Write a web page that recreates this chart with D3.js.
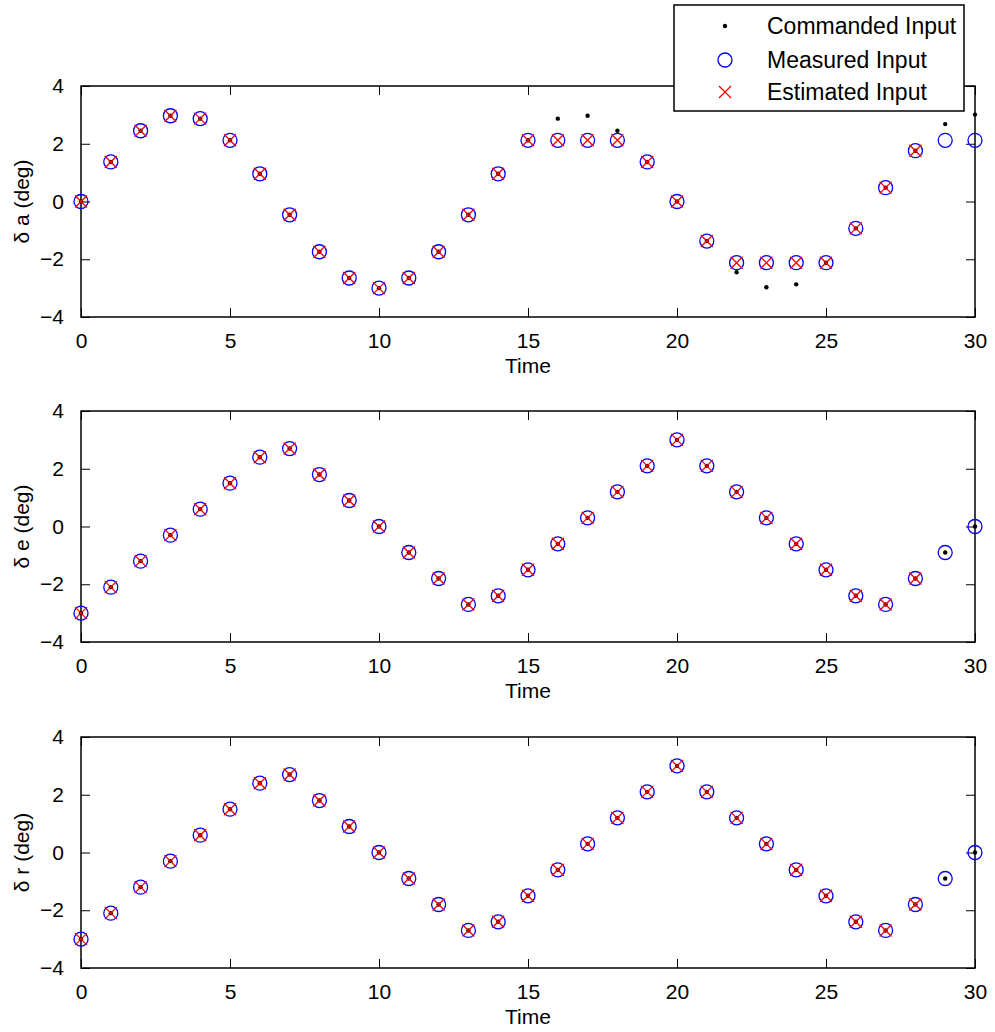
<!DOCTYPE html>
<html>
<head>
<meta charset="utf-8">
<script src="https://cdn.jsdelivr.net/npm/d3@7"></script>
<style>
  html, body { margin: 0; padding: 0; background: #fff; }
  svg { display: block; font-family: "Liberation Sans", Arial, Helvetica, sans-serif; }
</style>
</head>
<body>
<svg id="chart" width="995" height="1032"></svg>
<script>
// Sample times
const timeSteps = [0,1,2,3,4,5,6,7,8,9,10,11,12,13,14,15,16,17,18,19,20,21,22,23,24,25,26,27,28,29,30];

// Aileron deflection (deg)
const aCommanded = [0, 1.37, 2.45, 2.97, 2.87, 2.12, 0.96, -0.46, -1.74, -2.65, -3.0, -2.65, -1.74, -0.46, 0.96, 2.12,
                    2.87, 2.97, 2.45, 1.37, 0, -1.37, -2.45, -2.97, -2.87, -2.12, -0.93, 0.48, 1.76, 2.68, 3.01];
const aMeasured   = [0, 1.37, 2.45, 2.97, 2.87, 2.12, 0.96, -0.46, -1.74, -2.65, -3.0, -2.65, -1.74, -0.46, 0.96, 2.12,
                    2.12, 2.12, 2.12, 1.37, 0, -1.37, -2.12, -2.12, -2.12, -2.12, -0.93, 0.48, 1.76, 2.12, 2.12];
const aEstimated  = [0, 1.37, 2.45, 2.97, 2.87, 2.12, 0.96, -0.46, -1.74, -2.65, -3.0, -2.65, -1.74, -0.46, 0.96, 2.12,
                    2.12, 2.12, 2.12, 1.37, 0, -1.37, -2.12, -2.12, -2.12, -2.12, -0.93, 0.48, 1.76];

// Elevator deflection (deg)
const eCommanded = [-3.0, -2.1, -1.2, -0.3, 0.6, 1.5, 2.4, 2.7, 1.8, 0.9, 0, -0.9, -1.8, -2.7, -2.4, -1.5,
                    -0.6, 0.3, 1.2, 2.1, 3.0, 2.1, 1.2, 0.3, -0.6, -1.5, -2.4, -2.7, -1.8, -0.9, 0];
const eMeasured  = [-3.0, -2.1, -1.2, -0.3, 0.6, 1.5, 2.4, 2.7, 1.8, 0.9, 0, -0.9, -1.8, -2.7, -2.4, -1.5,
                    -0.6, 0.3, 1.2, 2.1, 3.0, 2.1, 1.2, 0.3, -0.6, -1.5, -2.4, -2.7, -1.8, -0.9, 0];
const eEstimated = [-3.0, -2.1, -1.2, -0.3, 0.6, 1.5, 2.4, 2.7, 1.8, 0.9, 0, -0.9, -1.8, -2.7, -2.4, -1.5,
                    -0.6, 0.3, 1.2, 2.1, 3.0, 2.1, 1.2, 0.3, -0.6, -1.5, -2.4, -2.7, -1.8];

// Rudder deflection (deg)
const rCommanded = [-3.0, -2.1, -1.2, -0.3, 0.6, 1.5, 2.4, 2.7, 1.8, 0.9, 0, -0.9, -1.8, -2.7, -2.4, -1.5,
                    -0.6, 0.3, 1.2, 2.1, 3.0, 2.1, 1.2, 0.3, -0.6, -1.5, -2.4, -2.7, -1.8, -0.9, 0];
const rMeasured  = [-3.0, -2.1, -1.2, -0.3, 0.6, 1.5, 2.4, 2.7, 1.8, 0.9, 0, -0.9, -1.8, -2.7, -2.4, -1.5,
                    -0.6, 0.3, 1.2, 2.1, 3.0, 2.1, 1.2, 0.3, -0.6, -1.5, -2.4, -2.7, -1.8, -0.9, 0];
const rEstimated = [-3.0, -2.1, -1.2, -0.3, 0.6, 1.5, 2.4, 2.7, 1.8, 0.9, 0, -0.9, -1.8, -2.7, -2.4, -1.5,
                    -0.6, 0.3, 1.2, 2.1, 3.0, 2.1, 1.2, 0.3, -0.6, -1.5, -2.4, -2.7, -1.8];

const xTicks = [0, 5, 10, 15, 20, 25, 30];
const yTicks = [-4, -2, 0, 2, 4];
const yLabels = ["\u03B4 a (deg)", "\u03B4 e (deg)", "\u03B4 r (deg)"];
const xLabel = "Time";
const legendLabels = ["Commanded Input", "Measured Input", "Estimated Input"];

const panels = [
  { cmd: aCommanded, meas: aMeasured, est: aEstimated, label: yLabels[0], top: 86 },
  { cmd: eCommanded, meas: eMeasured, est: eEstimated, label: yLabels[1], top: 411 },
  { cmd: rCommanded, meas: rMeasured, est: rEstimated, label: yLabels[2], top: 737 }
];

const svg = d3.select("#chart");
const left = 81, right = 975, plotH = 231;
const tickLen = 9;
const fmt = v => (v < 0 ? "\u2212" + Math.abs(v) : String(v));

const x = d3.scaleLinear().domain([0, 30]).range([left, right]);

function drawMarkers(g, y, cmd, meas, est) {
  // commanded: small black dots
  g.append("g").selectAll("circle").data(cmd).join("circle")
    .attr("cx", (d, i) => x(timeSteps[i])).attr("cy", d => y(d))
    .attr("r", 2.2).attr("fill", "#000");
  // measured: blue open circles
  g.append("g").selectAll("circle").data(meas).join("circle")
    .attr("cx", (d, i) => x(timeSteps[i])).attr("cy", d => y(d))
    .attr("r", 7).attr("fill", "none").attr("stroke", "#0000ff").attr("stroke-width", 1.3);
  // estimated: red crosses
  const s = 6;
  g.append("g").selectAll("path").data(est).join("path")
    .attr("d", (d, i) => {
      const cx = x(timeSteps[i]), cy = y(d);
      return `M${cx - s},${cy - s}L${cx + s},${cy + s}M${cx - s},${cy + s}L${cx + s},${cy - s}`;
    })
    .attr("fill", "none").attr("stroke", "#ff0000").attr("stroke-width", 1.3);
}

panels.forEach(p => {
  const top = p.top, bottom = top + plotH;
  const y = d3.scaleLinear().domain([-4, 4]).range([bottom, top]);
  const g = svg.append("g");

  // axes with ticks pointing inward, mirrored on opposite sides
  const axB = d3.axisBottom(x).tickValues(xTicks).tickSizeInner(-tickLen).tickSizeOuter(0).tickPadding(16).tickFormat(fmt);
  const axT = d3.axisTop(x).tickValues(xTicks).tickSizeInner(-tickLen).tickSizeOuter(0).tickFormat("");
  const axL = d3.axisLeft(y).tickValues(yTicks).tickSizeInner(-tickLen).tickSizeOuter(0).tickPadding(17).tickFormat(fmt);
  const axR = d3.axisRight(y).tickValues(yTicks).tickSizeInner(-tickLen).tickSizeOuter(0).tickFormat("");

  const gb = g.append("g").attr("transform", `translate(0,${bottom})`).call(axB);
  const gt = g.append("g").attr("transform", `translate(0,${top})`).call(axT);
  const gl = g.append("g").attr("transform", `translate(${left},0)`).call(axL);
  const gr = g.append("g").attr("transform", `translate(${right},0)`).call(axR);

  [gb, gt, gl, gr].forEach(a => {
    a.select(".domain").remove();
    a.selectAll(".tick line").attr("stroke", "#000").attr("stroke-width", 1);
    a.selectAll("text").attr("font-size", 21).attr("fill", "#000")
      .attr("font-family", "Liberation Sans, Arial, sans-serif");
  });

  // box
  g.append("rect").attr("x", left).attr("y", top).attr("width", right - left).attr("height", plotH)
    .attr("fill", "none").attr("stroke", "#000").attr("stroke-width", 1.5);

  // axis labels
  g.append("text").attr("x", (left + right) / 2).attr("y", bottom + 56)
    .attr("text-anchor", "middle").attr("font-size", 21).text(xLabel);
  g.append("text").attr("transform", `translate(29,${(top + bottom) / 2}) rotate(-90)`)
    .attr("text-anchor", "middle").attr("font-size", 21).text(p.label);

  drawMarkers(g, y, p.cmd, p.meas, p.est);
});

// legend
const lg = svg.append("g");
lg.append("rect").attr("x", 674).attr("y", 5).attr("width", 290).attr("height", 106)
  .attr("fill", "#fff").attr("stroke", "#000").attr("stroke-width", 1.5);
const rowY = [26, 60, 92];
const mx = 725;
lg.append("circle").attr("cx", mx).attr("cy", rowY[0]).attr("r", 2.2).attr("fill", "#000");
lg.append("circle").attr("cx", mx).attr("cy", rowY[1]).attr("r", 7).attr("fill", "none")
  .attr("stroke", "#0000ff").attr("stroke-width", 1.3);
lg.append("path").attr("d", `M${mx - 6},${rowY[2] - 6}L${mx + 6},${rowY[2] + 6}M${mx - 6},${rowY[2] + 6}L${mx + 6},${rowY[2] - 6}`)
  .attr("stroke", "#ff0000").attr("stroke-width", 1.3).attr("fill", "none");
lg.selectAll("text.leg").data(legendLabels).join("text").attr("class", "leg")
  .attr("x", 767).attr("y", (d, i) => rowY[i]).attr("dy", "0.36em")
  .attr("font-size", 23).text(d => d);
</script>
</body>
</html>
